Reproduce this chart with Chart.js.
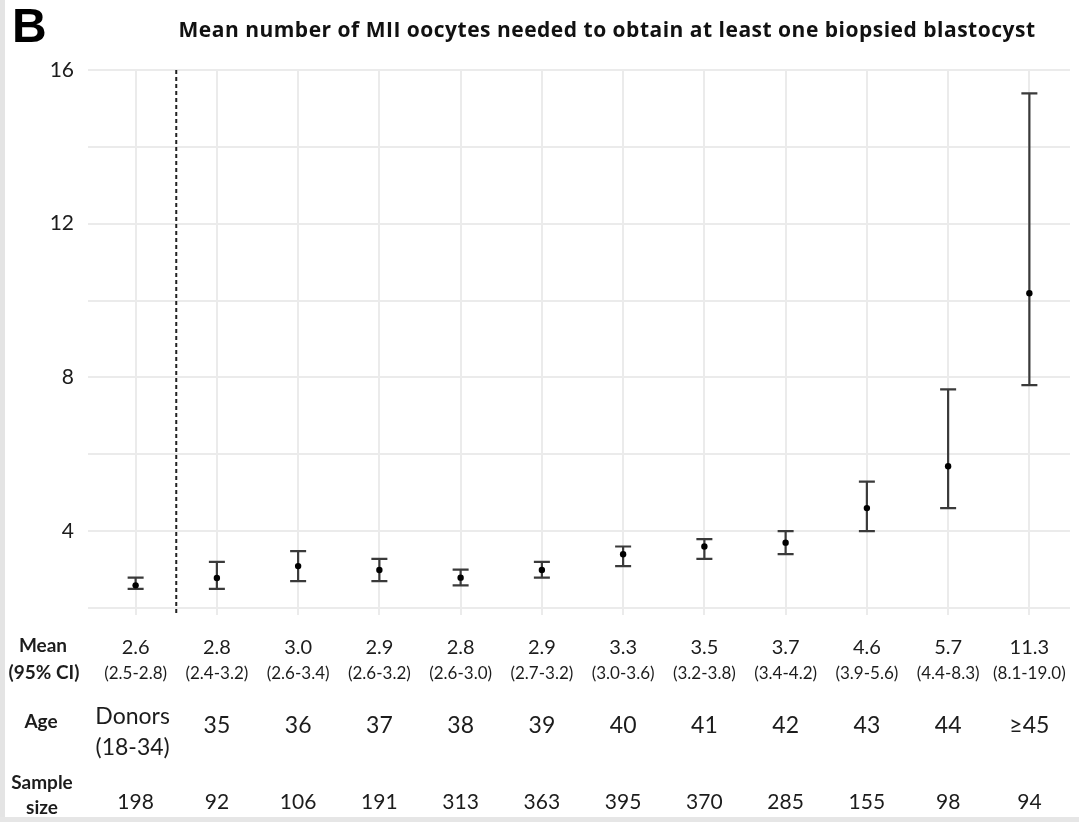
<!DOCTYPE html>
<html>
<head>
<meta charset="utf-8">
<title>Mean number of MII oocytes needed to obtain at least one biopsied blastocyst</title>
<script src="https://cdn.jsdelivr.net/npm/chart.js@4.4.1/dist/chart.umd.min.js"></script>
<style>
  html, body { margin: 0; padding: 0; background: #fff; }
  #wrap { position: relative; width: 1079px; height: 822px; overflow: hidden; }
  #wrap::before { content: ''; position: absolute; left: 0; top: 0; width: 5px; height: 100%; background: #e4e4e4; }
  #wrap::after { content: ''; position: absolute; left: 0; bottom: 0; width: 100%; height: 5px; background: #e6e6e6; }
</style>
</head>
<body>
<div id="wrap"><canvas id="chart" width="1079" height="822"></canvas></div>
<script>
// Age groups (x categories)
const ageLabels = [['Donors', '(18-34)'], '35', '36', '37', '38', '39', '40', '41', '42', '43', '44', '≥45'];
// Table rows under the chart
const meanLabels = ['2.6', '2.8', '3.0', '2.9', '2.8', '2.9', '3.3', '3.5', '3.7', '4.6', '5.7', '11.3'];
const ciLabels = ['(2.5-2.8)', '(2.4-3.2)', '(2.6-3.4)', '(2.6-3.2)', '(2.6-3.0)', '(2.7-3.2)',
                  '(3.0-3.6)', '(3.2-3.8)', '(3.4-4.2)', '(3.9-5.6)', '(4.4-8.3)', '(8.1-19.0)'];
const sampleSizes = [198, 92, 106, 191, 313, 363, 395, 370, 285, 155, 98, 94];
// Plotted points and error bars
const meanPoints = [2.59, 2.78, 3.09, 2.99, 2.79, 2.99, 3.40, 3.60, 3.70, 4.60, 5.69, 10.19];
const ciLow = [2.50, 2.50, 2.70, 2.70, 2.59, 2.79, 3.09, 3.28, 3.40, 4.00, 4.60, 7.80];
const ciHigh = [2.79, 3.20, 3.48, 3.28, 3.00, 3.20, 3.60, 3.79, 4.00, 5.29, 7.69, 15.39];
const yTicks = [4, 8, 12, 16];

const FONT = 'Lato, "Open Sans", sans-serif';
const TEXT = '#1c1c1c';

// error bars + dashed separator
const errorBars = {
  id: 'errorBars',
  beforeDatasetsDraw(chart) {
    const ctx = chart.ctx, x = chart.scales.x, y = chart.scales.y;
    ctx.save();
    // dashed line between donors and the rest
    const xd = x.getPixelForValue(0.5);
    ctx.strokeStyle = '#222';
    ctx.lineWidth = 2;
    ctx.setLineDash([4, 3]);
    ctx.beginPath();
    ctx.moveTo(xd, y.top);
    ctx.lineTo(xd, y.bottom + 7);
    ctx.stroke();
    ctx.setLineDash([]);

    ctx.strokeStyle = '#3a3a3a';
    ctx.lineWidth = 2.2;
    ciLow.forEach(function(lo, i) {
      const xp = x.getPixelForValue(i);
      const y1 = y.getPixelForValue(lo);
      const y2 = y.getPixelForValue(ciHigh[i]);
      ctx.beginPath();
      ctx.moveTo(xp, y1); ctx.lineTo(xp, y2);
      ctx.moveTo(xp - 8, y1); ctx.lineTo(xp + 8, y1);
      ctx.moveTo(xp - 8, y2); ctx.lineTo(xp + 8, y2);
      ctx.stroke();
    });
    ctx.restore();
  }
};

// title, panel letter and the table below
const tableText = {
  id: 'tableText',
  afterDraw(chart) {
    const ctx = chart.ctx, x = chart.scales.x;
    ctx.save();
    ctx.fillStyle = '#000';
    ctx.textBaseline = 'middle';
    ctx.textAlign = 'left';
    ctx.font = 'bold 48px "Liberation Sans", Arial, sans-serif';
    ctx.fillText('B', 12, 29);

    ctx.fillStyle = '#111';
    ctx.textAlign = 'center';
    ctx.font = 'bold 21px "Open Sans", sans-serif';
    ctx.letterSpacing = '0.5px';
    ctx.fillText('Mean number of MII oocytes needed to obtain at least one biopsied blastocyst', 607, 31);
    ctx.letterSpacing = '0px';

    // row headers
    ctx.fillStyle = TEXT;
    ctx.font = 'bold 19px ' + FONT;
    ctx.fillText('Mean', 43, 646);
    ctx.fillText('(95% CI)', 44, 673);
    ctx.fillText('Age', 41, 722);
    ctx.fillText('Sample', 42, 783);
    ctx.fillText('size', 42, 808);

    ageLabels.forEach(function(age, i) {
      const xp = x.getPixelForValue(i);
      ctx.font = '20px ' + FONT;
      ctx.fillText(meanLabels[i], xp, 648);
      ctx.font = '17px ' + FONT;
      ctx.fillText(ciLabels[i], xp, 674);
      ctx.font = '23px ' + FONT;
      if (Array.isArray(age)) {
        ctx.fillText(age[0], xp - 3, 717);
        ctx.fillText(age[1], xp - 3, 748);
      } else {
        ctx.fillText(age, xp, 726);
      }
      ctx.font = '21px ' + FONT;
      ctx.fillText(String(sampleSizes[i]), xp, 802);
    });
    ctx.restore();
  }
};

new Chart(document.getElementById('chart'), {
  type: 'line',
  data: {
    labels: ageLabels,
    datasets: [{
      data: meanPoints,
      showLine: false,
      pointRadius: 3.2,
      pointBackgroundColor: '#000',
      pointBorderWidth: 0
    }]
  },
  options: {
    responsive: false,
    animation: false,
    layout: { padding: { top: 70, right: 9, bottom: 0, left: 0 } },
    plugins: {
      legend: { display: false },
      tooltip: { enabled: false }
    },
    scales: {
      x: {
        type: 'category',
        offset: true,
        border: { display: false },
        grid: { color: '#ebebeb', lineWidth: 2, tickLength: 7, offset: false },
        ticks: { display: false },
        afterFit: function(s) { s.height = 214; }
      },
      y: {
        min: 2,
        max: 16,
        border: { display: false },
        grid: { color: '#ebebeb', lineWidth: 2, tickLength: 7 },
        ticks: {
          stepSize: 2,
          padding: 14,
          color: TEXT,
          font: { family: FONT, size: 21 },
          callback: function(v) { return yTicks.indexOf(v) >= 0 ? v : ''; }
        },
        afterFit: function(s) { s.width = 95; }
      }
    }
  },
  plugins: [errorBars, tableText]
});
</script>
</body>
</html>
